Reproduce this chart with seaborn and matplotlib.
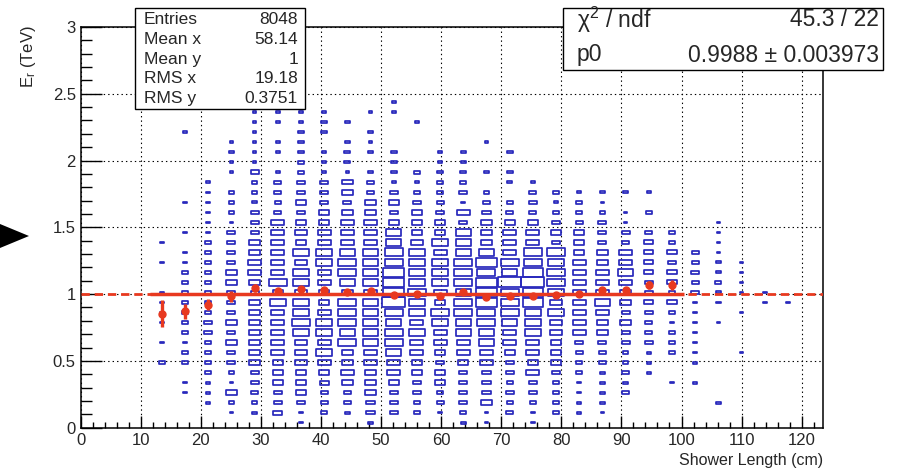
import numpy as np
import pandas as pd
import matplotlib
matplotlib.use("Agg")
import matplotlib.pyplot as plt
import seaborn as sns
from matplotlib.path import Path
from matplotlib.markers import MarkerStyle
from matplotlib.patches import Rectangle, Polygon
from matplotlib.ticker import MultipleLocator, FormatStrFormatter

# ---- histogram binning -------------------------------------------------
x_range = (0.0, 123.5)      # shower length (cm)
n_x_bins = 32
y_range = (0.0, 3.0)        # reconstructed energy (TeV)
n_y_bins = 40

# counts per cell, one list per x bin (starting at bin 3), rows from y=0 upward
first_x_bin = 3
column_counts = [
    [0, 0, 0, 0, 0, 0, 5, 0, 2, 0, 2, 2, 2, 2, 0, 0, 2, 0, 2],
    [0, 0, 0, 2, 2, 0, 5, 5, 2, 5, 5, 5, 5, 5, 5, 5, 2, 2, 0, 2, 0, 0, 2, 0, 0, 0, 0, 0, 0, 2],
    [0, 0, 3, 3, 3, 5, 5, 5, 5, 10, 10, 5, 5, 5, 5, 5, 5, 5, 5, 2, 2, 2, 2, 2, 2],
    [0, 2, 5, 16, 2, 5, 10, 10, 16, 10, 16, 10, 10, 10, 16, 16, 10, 10, 10, 10, 2, 5, 5, 5, 0, 2, 2, 5, 2],
    [0, 3, 5, 7, 10, 10, 16, 16, 16, 16, 16, 16, 16, 10, 16, 25, 25, 16, 16, 10, 10, 10, 3, 5, 5, 10, 2, 2, 2, 2, 2, 2],
    [0, 13, 10, 10, 16, 16, 16, 25, 25, 25, 25, 25, 36, 16, 49, 25, 25, 25, 25, 25, 25, 7, 5, 7, 7, 3, 0, 3, 3, 0, 2, 3],
    [2, 2, 10, 16, 16, 16, 25, 25, 25, 36, 49, 36, 36, 25, 36, 36, 25, 36, 16, 25, 16, 10, 16, 10, 10, 7, 7, 5, 5, 5, 2, 3],
    [0, 5, 7, 7, 13, 16, 25, 36, 25, 36, 36, 25, 16, 16, 25, 25, 36, 36, 25, 25, 16, 16, 10, 10, 10, 3, 2, 3, 0, 5, 5, 2],
    [0, 3, 7, 7, 20, 25, 16, 16, 49, 36, 49, 49, 49, 16, 36, 49, 49, 36, 25, 25, 25, 16, 10, 16, 16, 2, 5, 5, 3, 0, 3],
    [3, 10, 10, 16, 16, 16, 25, 25, 36, 36, 36, 36, 36, 25, 36, 36, 36, 36, 25, 25, 25, 16, 16, 7, 7, 5, 0, 5, 2, 5, 0, 2],
    [0, 10, 10, 10, 16, 25, 25, 36, 49, 49, 36, 49, 81, 64, 64, 64, 49, 49, 36, 36, 16, 10, 16, 10, 2, 5, 5, 5, 0, 0, 0, 3, 3],
    [0, 7, 7, 10, 10, 16, 16, 25, 25, 36, 25, 36, 36, 49, 36, 36, 36, 36, 20, 16, 16, 16, 10, 7, 2, 7, 0, 0, 0, 0, 2],
    [0, 2, 7, 5, 16, 16, 10, 16, 25, 25, 36, 49, 16, 25, 36, 36, 36, 25, 36, 16, 16, 10, 7, 5, 5, 5, 3, 3],
    [3, 5, 10, 10, 10, 10, 16, 25, 25, 36, 36, 49, 49, 36, 49, 49, 49, 36, 36, 36, 10, 25, 2, 10, 5, 5, 3, 3],
    [2, 2, 16, 10, 10, 10, 25, 25, 36, 36, 49, 49, 64, 64, 64, 49, 64, 36, 16, 16, 16, 10, 7, 5, 0, 5, 0, 0, 2],
    [0, 7, 5, 10, 5, 10, 10, 16, 25, 25, 36, 49, 49, 49, 81, 36, 49, 25, 25, 25, 16, 7, 5, 0, 3, 5, 0, 5],
    [2, 2, 5, 10, 10, 25, 16, 25, 25, 36, 36, 36, 64, 64, 81, 64, 49, 49, 25, 25, 16, 7, 10, 7, 3],
    [0, 5, 5, 5, 7, 10, 16, 16, 16, 25, 25, 36, 25, 36, 49, 49, 36, 49, 10, 16, 10, 5, 3, 7],
    [0, 3, 3, 2, 2, 5, 5, 7, 10, 25, 25, 25, 25, 25, 25, 25, 25, 16, 16, 16, 7, 5, 5, 3],
    [0, 2, 3, 3, 3, 3, 7, 7, 10, 16, 16, 25, 36, 25, 25, 25, 16, 16, 10, 10, 10, 5, 2, 3],
    [0, 0, 0, 7, 3, 7, 5, 5, 10, 10, 16, 10, 16, 16, 25, 36, 25, 25, 7, 10, 2, 2, 0, 3],
    [0, 0, 0, 0, 0, 3, 3, 3, 10, 7, 7, 10, 13, 10, 10, 13, 13, 13, 13, 7, 0, 5, 0, 3],
    [0, 0, 0, 0, 2, 0, 0, 5, 5, 5, 3, 5, 13, 5, 13, 13, 10, 13, 5, 5],
    [0, 0, 0, 0, 3, 0, 3, 2, 2, 2, 3, 3, 3, 10, 7, 10, 7, 7],
    [0, 0, 3, 0, 0, 0, 0, 0, 0, 0, 2, 0, 3, 3, 5, 3, 3, 2, 2, 2, 2],
    [0, 0, 0, 0, 0, 0, 0, 2, 0, 0, 0, 2, 0, 2, 2, 2, 2],
    [0, 0, 0, 0, 0, 0, 0, 0, 0, 0, 0, 0, 2, 2],
    [0, 0, 0, 0, 0, 0, 0, 0, 0, 0, 0, 0, 2],
]

# profile (mean energy per length bin) and its errors, bins 3..25
profile_mean = [0.853, 0.870, 0.922, 0.983, 1.043, 1.023, 1.036, 1.030, 1.018, 1.025,
                0.993, 1.001, 0.986, 1.018, 0.976, 0.986, 0.986, 0.993, 1.001, 1.031,
                1.031, 1.068, 1.068]
profile_error = [0.100, 0.056, 0.041, 0.040, 0.030, 0.020, 0.018, 0.018, 0.016, 0.016,
                 0.015, 0.015, 0.015, 0.015, 0.015, 0.015, 0.016, 0.017, 0.018, 0.022,
                 0.024, 0.031, 0.035]
fit_p0 = 0.9988
fit_bins = (3, 25)

stats_labels = ["Entries", "Mean x", "Mean y", "RMS x", "RMS y"]
stats_values = ["8048", "58.14", "1", "19.18", "0.3751"]
fit_labels = ["\u03c7$^{2}$ / ndf", "p0"]
fit_values = ["45.3 / 22", "0.9988 \u00b1 0.003973"]

# ---- style ---------------------------------------------------------------
sns.set_style("ticks")
plt.rcParams.update({
    "font.family": ["Liberation Sans", "DejaVu Sans"],
    "mathtext.fontset": "custom",
    "mathtext.rm": "Liberation Sans",
    "mathtext.default": "regular",
    "lines.scale_dashes": False,
    "axes.linewidth": 1.1,
    "axes.edgecolor": "black",
})

W, H = 897, 469
fig = plt.figure(figsize=(W / 100, H / 100), dpi=100)
fig.patch.set_facecolor("white")
ax = fig.add_axes([80.7 / W, 1 - 427.7 / H, 742 / W, 400.7 / H])
ax.set_facecolor("white")

# ---- cell table -------------------------------------------------------------
x_edges = np.linspace(*x_range, n_x_bins + 1)
y_edges = np.linspace(*y_range, n_y_bins + 1)
x_centers = 0.5 * (x_edges[:-1] + x_edges[1:])
y_centers = 0.5 * (y_edges[:-1] + y_edges[1:])

rows = []
for k, col in enumerate(column_counts):
    for j, c in enumerate(col):
        if c > 0:
            rows.append((x_centers[first_x_bin + k], y_centers[j], c))
cells = pd.DataFrame(rows, columns=["length", "energy", "count"])

# box marker with the aspect of one cell on screen
cell_w_px = 742 / n_x_bins
cell_h_px = 400.7 / n_y_bins
h = cell_h_px / cell_w_px
box = MarkerStyle(Path([(-1, -h), (1, -h), (1, h), (-1, h), (-1, -h)],
                       [Path.MOVETO, Path.LINETO, Path.LINETO, Path.LINETO, Path.CLOSEPOLY]))
full_pts = 1.0 * cell_w_px * 72 / 100
max_count = 81

sns.scatterplot(data=cells, x="length", y="energy", size="count",
                sizes=(0, full_pts ** 2), size_norm=(0, max_count),
                marker=box, facecolors="none", edgecolor="#2828bc",
                linewidth=1.25, legend=False, ax=ax, zorder=3)

# ---- fit and profile ----------------------------------------------------
red = "#e8391f"
ax.plot(x_range, [fit_p0, fit_p0], color=red, lw=2.0, dashes=(6, 3.5), zorder=4)
ax.plot([x_edges[fit_bins[0]], x_edges[fit_bins[1] + 1]], [fit_p0, fit_p0],
        color=red, lw=2.5, solid_capstyle="butt", zorder=5)
px = x_centers[fit_bins[0]:fit_bins[1] + 1]
ax.errorbar(px, profile_mean, yerr=profile_error, fmt="o", color=red,
            ms=5, elinewidth=2.4, capsize=0, zorder=6)

# ---- axes ------------------------------------------------------------------
ax.set_xlim(*x_range)
ax.set_ylim(*y_range)
ax.xaxis.set_major_locator(MultipleLocator(10))
ax.xaxis.set_minor_locator(MultipleLocator(2))
ax.yaxis.set_major_locator(MultipleLocator(0.5))
ax.yaxis.set_minor_locator(MultipleLocator(0.1))
ax.yaxis.set_major_formatter(FormatStrFormatter("%g"))
ax.xaxis.set_major_formatter(FormatStrFormatter("%g"))
ax.tick_params(which="both", direction="in", top=False, right=False,
               color="black", width=1.0, labelsize=12)
ax.tick_params(axis="x", which="major", length=9, pad=3.5)
ax.tick_params(axis="x", which="minor", length=4.5)
ax.tick_params(axis="y", which="major", length=15, pad=3.5)
ax.tick_params(axis="y", which="minor", length=8)
ax.grid(True, which="major", color="black", linestyle=(0, (1, 2.2)), linewidth=0.8)
ax.set_axisbelow(True)
for s in ax.spines.values():
    s.set_visible(True)
    s.set_linewidth(1.1)

ax.set_xlabel("Shower Length (cm)", loc="right", fontsize=11.5)
ax.xaxis.set_label_coords(1.0, -0.064)
ax.set_ylabel("E$_{r}$ (TeV)", loc="top", fontsize=12)
ax.yaxis.set_label_coords(-0.058, 1.005)

# ---- statistics boxes ----------------------------------------------------
def fx(p):
    return p / W

def fy(p):
    return 1 - p / H

fig.add_artist(Rectangle((fx(135), fy(109)), fx(305) - fx(135), fy(8) - fy(109),
                         transform=fig.transFigure, facecolor="white",
                         edgecolor="black", lw=1.0, zorder=10))
for k, (lab, val) in enumerate(zip(stats_labels, stats_values)):
    yy = fy(19.5 + 19.8 * k)
    fig.text(fx(144), yy, lab, ha="left", va="center", fontsize=12.5, zorder=11)
    fig.text(fx(298), yy, val, ha="right", va="center", fontsize=12.5, zorder=11)

fig.add_artist(Rectangle((fx(563), fy(70)), fx(883) - fx(563), fy(8) - fy(70),
                         transform=fig.transFigure, facecolor="white",
                         edgecolor="black", lw=1.0, zorder=10))
for k, (lab, val) in enumerate(zip(fit_labels, fit_values)):
    yy = fy(20 + 35 * k)
    fig.text(fx(577), yy, lab, ha="left", va="center", fontsize=16.5, zorder=11)
    fig.text(fx(879), yy, val, ha="right", va="center", fontsize=16.5, zorder=11)

# pointer marker on the left margin
fig.add_artist(Polygon([(fx(0), fy(224)), (fx(0), fy(248)), (fx(29), fy(236))],
                       closed=True, transform=fig.transFigure,
                       facecolor="black", edgecolor="none", zorder=10))

fig.savefig("out.png", dpi=100, facecolor="white")
